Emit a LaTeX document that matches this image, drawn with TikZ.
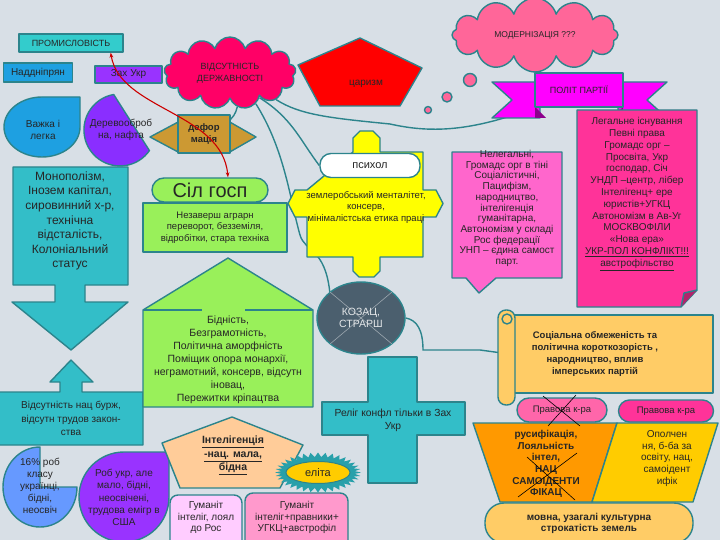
\documentclass[tikz,border=0pt]{standalone}
\usepackage{fontspec}
\setmainfont{Liberation Sans}
\definecolor{bgcol}{RGB}{216,223,230}
\definecolor{tealline}{RGB}{44,132,140}
\definecolor{promc}{RGB}{51,204,204}
\definecolor{bluec}{RGB}{30,160,225}
\definecolor{purplec}{RGB}{153,51,255}
\definecolor{crimsonc}{RGB}{255,0,102}
\definecolor{redc}{RGB}{255,0,0}
\definecolor{pinkc}{RGB}{255,102,153}
\definecolor{magc}{RGB}{255,0,255}
\definecolor{hotpinkc}{RGB}{255,51,153}
\definecolor{lpinkc}{RGB}{255,102,204}
\definecolor{yellowc}{RGB}{255,255,0}
\definecolor{ochrec}{RGB}{204,153,51}
\definecolor{greenc}{RGB}{153,240,90}
\definecolor{tealc}{RGB}{51,190,200}
\definecolor{slatec}{RGB}{75,95,110}
\definecolor{peachc}{RGB}{255,204,153}
\definecolor{goldc}{RGB}{255,204,0}
\definecolor{sealc}{RGB}{40,160,170}
\definecolor{lilacc}{RGB}{255,204,255}
\definecolor{rosec}{RGB}{255,153,204}
\definecolor{pieblue}{RGB}{102,153,255}
\definecolor{scrollc}{RGB}{255,204,102}
\definecolor{pravc}{RGB}{255,102,170}
\definecolor{orangec}{RGB}{255,153,0}
\usetikzlibrary{calc}
\usetikzlibrary{positioning}
\usetikzlibrary{shapes.geometric,shapes.symbols,arrows.meta,backgrounds}
\tikzset{
  shp/.style={draw=tealline, line width=1.4pt, line join=round},
  txt/.style={align=center, inner sep=0pt, text=black!85, font=\fontsize{10}{11.8}\selectfont},
  wavy/.style={draw=tealline, line width=1.4pt},
  redarrow/.style={draw=red!80!black, line width=1.1pt},
}

\begin{document}
\begin{tikzpicture}[x=1pt,y=-1pt]
  \useasboundingbox (0,0) rectangle (720,540);
  \clip (0,0) rectangle (720,540);
  \begin{scope}[on background layer]
    \fill[bgcol] (0,0) rectangle (720,540);
  \end{scope}

  % top row
  \node[shp, fill=promc, minimum width=104pt, minimum height=18pt, txt, font=\fontsize{9}{10}\selectfont] (prom) at (71,43) {ПРОМИСЛОВІСТЬ};
  \node[shp, fill=bluec, minimum width=69pt, minimum height=19pt, txt] (naddn) at (38,72.5) {Наддніпрян};
  \node[shp, fill=purplec, minimum width=67pt, minimum height=17pt, txt] (zakhukr) at (128.5,74.5) {Зах Укр};

  \node[cloud, cloud puffs=13, cloud ignores aspect, shp, fill=crimsonc, minimum width=132pt, minimum height=72pt, txt, font=\fontsize{9}{12}\selectfont] (noderzh) at (230,73) {ВІДСУТНІСТЬ\\ДЕРЖАВНОСТІ};

  \draw[shp, fill=redc] (298,65) -- (360,38) -- (422,68) -- (400,106) -- (320,106) -- cycle;
  \node[txt] (tsaryzm) at (366,84) {царизм};

  \node[cloud, cloud puffs=12, cloud ignores aspect, shp, fill=pinkc, minimum width=166pt, minimum height=74pt, txt, font=\fontsize{8.5}{10}\selectfont] (modern) at (535,35) {МОДЕРНІЗАЦІЯ ???};
  \foreach \x/\y/\r in {470/80/6.5, 447/97/5, 428/110/3.5}
    \draw[shp, fill=pinkc] (\x,\y) circle[radius=\r pt];

  % ribbon
  \draw[shp, fill=magc] (540,82) -- (492,82) -- (512,100) -- (492,118) -- (540,118) -- cycle;
  \draw[shp, fill=magc] (618,82) -- (667,82) -- (647,100) -- (667,118) -- (618,118) -- cycle;
  \fill[magc!55!black] (535,107) -- (546,118) -- (535,118) -- cycle;
  \fill[magc!55!black] (623,107) -- (612,118) -- (623,118) -- cycle;
  \node[shp, fill=magc, minimum width=88pt, minimum height=34pt, txt, font=\fontsize{9}{10}\selectfont] (polit) at (579,90) {ПОЛІТ ПАРТІЇ};

  \draw[shp, fill=hotpinkc] (577,110) -- (697,110) -- (697,290) -- (681,307) -- (577,307) -- cycle;
  \draw[shp, fill=hotpinkc!70!black] (697,290) -- (684,293) -- (681,307);
  \node[txt] (legal) at (637,194) {Легальне існування\\Певні права\\Громадс орг –\\Просвіта, Укр\\господар, Січ\\УНДП –центр, лібер\\Інтелігенц+ ере\\юристів+УГКЦ\\Автономізм в Ав-Уг\\МОСКВОФІЛИ\\«Нова ера»\\\underline{УКР-ПОЛ КОНФЛІКТ!!!}\\\underline{австрофільство}};

  \draw[shp, fill=lpinkc] (452,152) -- (562,152) -- (562,278) -- (496,278) -- (479,293) -- (466,278) -- (452,278) -- cycle;
  \node[txt, font=\fontsize{10}{10.7}\selectfont] (nelegal) at (507,208.5) {Нелегальні,\\Громадс орг в тіні\\Соціалістичні,\\Пацифізм,\\народництво,\\інтелігенція\\гуманітарна,\\Автономізм у складі\\Рос федерації\\УНП – єдина самост\\парт.};

  % psychology cross
  \draw[shp, fill=yellowc] (353,152) -- (353,138) -- (360,131) -- (373,131) -- (380,138) -- (380,152) -- (423,152) -- (423,190) -- (436,190) -- (443,203.5) -- (436,217) -- (423,217) -- (423,257) -- (380,257) -- (380,271) -- (374,277) -- (359,277) -- (353,271) -- (353,257) -- (307,257) -- (307,217) -- (295,217) -- (288,203.5) -- (295,190) -- (307,190) -- cycle;
  \node[shp, fill=white, rounded corners=11pt, minimum width=100pt, minimum height=24pt, txt, font=\fontsize{11}{13}\selectfont] (psyhol) at (370,165.5) {психол};
  \node[txt, font=\fontsize{9.5}{11.5}\selectfont] (zemlerob) at (366,207) {землеробський менталітет,\\консерв,\\мінімалістська етика праці};

  % left top
  \draw[shp, fill=ochrec] (150,137) -- (180,121) -- (180,153) -- cycle;
  \draw[shp, fill=ochrec] (256,137) -- (228,121) -- (228,153) -- cycle;
  \node[shp, fill=ochrec, minimum width=52pt, minimum height=38pt, txt, font=\fontsize{9.5}{12}\selectfont\bfseries] (deform) at (204,134) {дефор\\мація};

  \draw[shp, fill=bluec] (80,97) -- (80,127) arc[start angle=0, end angle=270, x radius=38, y radius=30] -- cycle;
  \node[txt] (vazhka) at (43,130) {Важка і\\легка};
  \draw[shp, fill=purplec!90!blue] (113.7,94.5) arc[start angle=-100, end angle=-325, radius=36] -- cycle;
  \node[txt] (derevo) at (121,130) {Деревооброб\\на, нафта};

  \node[shp, fill=greenc, rounded corners=12pt, minimum width=116pt, minimum height=24pt, txt, font=\fontsize{20}{22}\selectfont] (silgosp) at (210,190) {Сіл госп};
  \node[shp, fill=greenc, minimum width=144pt, minimum height=49pt, txt, font=\fontsize{9.5}{11.5}\selectfont] (nezav) at (215,227.5) {Незаверш аграрн\\переворот, безземіля,\\відробітки, стара техніка};

  \draw[shp, fill=tealc] (13,167) -- (128,167) -- (128,285) -- (85,285) -- (85,302) -- (128,302) -- (71,350) -- (12,302) -- (55,302) -- (55,285) -- (13,285) -- cycle;
  \node[txt, font=\fontsize{12}{14.6}\selectfont] (monopol) at (70,221) {Монополізм,\\Інозем капітал,\\сировинний х-р,\\технічна\\відсталість,\\Колоніальний\\статус};

  \draw[shp, fill=tealc] (-2,392) -- (60,392) -- (60,382) -- (50,382) -- (71,360) -- (93,382) -- (82,382) -- (82,392) -- (143,392) -- (143,445) -- (-2,445) -- cycle;
  \node[txt, font=\fontsize{10}{13.5}\selectfont] (vidsbur) at (71,418.5) {Відсутність нац бурж,\\відсутн трудов закон-\\ства};

  % house
  \draw[shp, fill=greenc] (143,310) -- (228,258) -- (313,310) -- (313,407) -- (143,407) -- cycle;
  \draw[shp] (143,310) -- (202,310) (245,310) -- (313,310);
  \node[txt, font=\fontsize{10.5}{13}\selectfont] (bidnist) at (228,360) {Бідність,\\Безграмотність,\\Політична аморфність\\Поміщик опора монархії,\\неграмотний, консерв, відсутн\\іновац,\\Пережитки кріпацтва};

  \node[ellipse, shp, fill=slatec, minimum width=88pt, minimum height=72pt, inner sep=0pt] (kozak) at (361,318) {};
  \draw[slatec!55!white, line width=0.6pt] (kozak.40) -- (kozak.-140) (kozak.140) -- (kozak.-40);
  \node[txt, text=white!85!slatec, font=\fontsize{10.5}{12.5}\selectfont] (kozaktxt) at (kozak) {КОЗАЦ,\\СТРАРШ};

  \draw[shp, fill=tealc] (368,357) -- (417,357) -- (417,402) -- (465,402) -- (465,435) -- (417,435) -- (417,483) -- (368,483) -- (368,435) -- (322,435) -- (322,402) -- (368,402) -- cycle;
  \node[txt, font=\fontsize{10.3}{13}\selectfont] (relig) at (393,420) {Реліг конфл тільки в Зах\\Укр};

  % bottom left
  \draw[shp, fill=pieblue] (40,487) -- (77,487) arc[start angle=0, end angle=270, x radius=37, y radius=40] -- cycle;
  \node[txt, font=\fontsize{10}{12}\selectfont] (rob16) at (40,486) {16\% роб\\класу\\українці,\\бідні,\\неосвіч};
  \draw[shp, fill=purplec] (169,452) -- (169,497) arc[start angle=0, end angle=270, radius=45] -- cycle;
  \node[txt, font=\fontsize{10}{12.25}\selectfont] (robukr) at (124,497.5) {Роб укр, але\\мало, бідні,\\неосвічені,\\трудова емігр в\\США};

  \draw[shp, fill=peachc] (232,417) -- (303,445) -- (280,488) -- (180,488) -- (162,443) -- cycle;
  \node[txt, font=\fontsize{10.5}{13.5}\selectfont\bfseries] (intel) at (233,455.5) {\underline{Інтелігенція}\\\underline{-нац. мала,}\\\underline{бідна}};

  \coordinate (elitac) at (318,472.5);
  \fill[sealc] ($(elitac)+(0:43 and 20)$) \foreach \a in {0,10,...,350} { -- ($(elitac)+({\a+5}:37 and 15.5)$) -- ($(elitac)+({\a+10}:43 and 20)$) } -- cycle;
  \node[ellipse, draw=tealline, line width=1pt, fill=goldc, minimum width=64pt, minimum height=22pt, txt, font=\fontsize{11}{13}\selectfont] (elita) at (elitac) {еліта};

  \draw[shp, fill=lilacc, rounded corners=8pt] (170,548) -- (170,495) -- (242,495) -- (242,548);
  \node[txt, font=\fontsize{10}{11.5}\selectfont] (human1) at (206,517.5) {Гуманіт\\інтеліг, лоял\\до Рос};
  \draw[shp, fill=rosec, rounded corners=8pt] (245,548) -- (245,493) -- (348,493) -- (348,548);
  \node[txt, font=\fontsize{10}{11.5}\selectfont] (human2) at (297,517.5) {Гуманіт\\інтеліг+правники+\\УГКЦ+австрофіл};

  % bottom right
  \node[shp, fill=scrollc, minimum width=203pt, minimum height=78pt] (scroll) at (611.5,354) {};
  \draw[shp, fill=scrollc, rounded corners=8pt] (498,310) rectangle (515,405);
  \draw[shp, fill=scrollc] (507,319) circle[radius=5pt];
  \node[txt, font=\fontsize{9.5}{12.3}\selectfont\bfseries] (sotsobm) at (595,354) {Соціальна обмеженість та\\політична короткозорість ,\\народництво, вплив\\імперських партій};

  \draw[shp, fill=orangec] (473,423) -- (617,423) -- (592,502) -- (500,502) -- cycle;
  \draw[shp, fill=goldc] (617,423) -- (718,423) -- (693,502) -- (592,502) -- cycle;
  \node[txt, font=\fontsize{10}{11.6}\selectfont\bfseries] (rusyf) at (546,464) {русифікація,\\Лояльність\\інтел,\\НАЦ\\САМОІДЕНТИ\\ФІКАЦ};
  \node[txt, font=\fontsize{10}{11.75}\selectfont] (opolch) at (667,458.5) {Ополчен\\ня, б-ба за\\освіту, нац,\\самоідент\\ифік};

  \node[shp, fill=pravc, rounded corners=12pt, minimum width=90pt, minimum height=24pt, txt, font=\fontsize{9.5}{11}\selectfont] (pravova1) at (562,410) {Правова к-ра};
  \node[shp, fill=hotpinkc, rounded corners=11pt, minimum width=95pt, minimum height=22pt, txt, font=\fontsize{9.5}{11}\selectfont] (pravova2) at (666,411) {Правова к-ра};
  \draw[black, line width=0.6pt] (543,396) -- (580,426) (548,426) -- (576,395);
  \draw[black, line width=0.6pt] (518,497) -- (577,453) (527,457) -- (575,500);

  \node[shp, fill=scrollc, rounded corners=19pt, minimum width=208pt, minimum height=40pt, txt, font=\fontsize{10}{11}\selectfont\bfseries] (movna) at (589,523) {мовна, узагалі культурна\\строкатість земель};

  % curly lines
  \begin{scope}[on background layer]
    \draw[wavy] (noderzh.-78) to[bend left=20] ++(-10,15);
    \draw[wavy] (noderzh.-50) .. controls (285,150) and (290,200) .. (300,235) .. controls (305,252) and (325,248) .. (kozak.140);
    \draw[wavy] (noderzh.-40) .. controls (292,118) and (300,140) .. (psyhol.west);
    \draw[wavy] (noderzh.-30) .. controls (300,115) and (330,118) .. (390,124) .. controls (430,133) and (470,132) .. (polit.south west);
    \draw[wavy] (kozak.east) .. controls (417,320) and (423,330) .. (423,350) -- (480,350) -- (scroll.west);
  \end{scope}

  \draw[redarrow, {Stealth[length=5pt]}-{Stealth[length=5pt]}] ($(prom.south east)+(-13,0)$) .. controls (120,110) and (222,112) .. ($(silgosp.north)+(18,0)$);
\end{tikzpicture}
\end{document}
